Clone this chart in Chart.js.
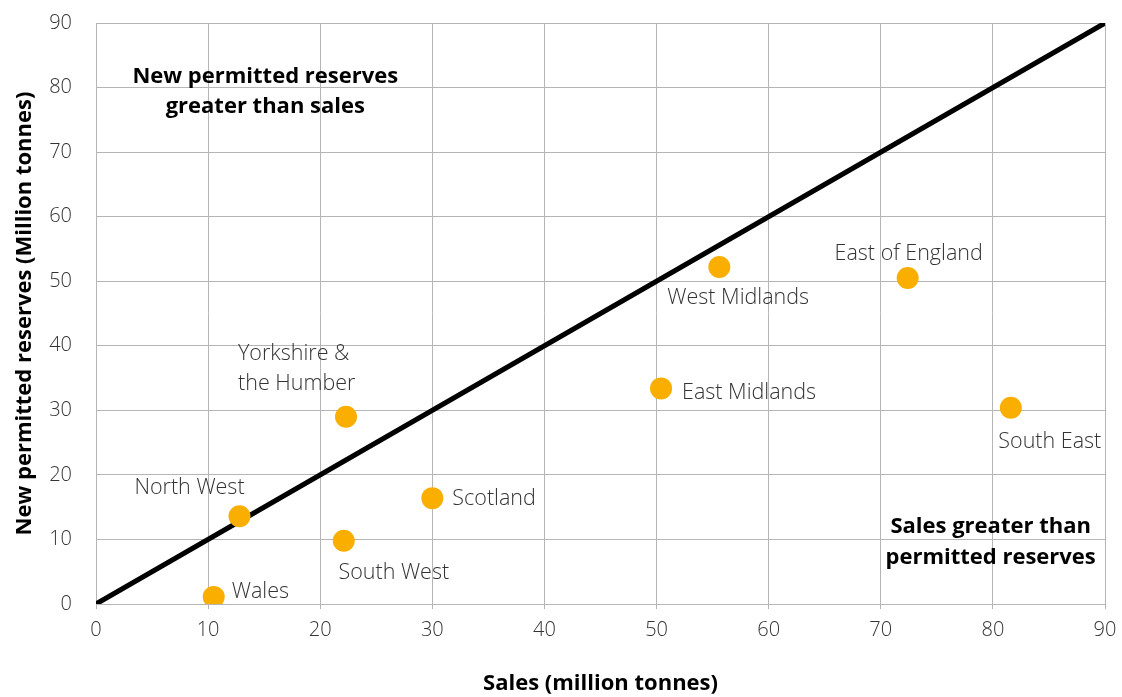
<!DOCTYPE html>
<html>
<head>
<meta charset="utf-8">
<script src="https://cdn.jsdelivr.net/npm/chart.js@4/dist/chart.umd.min.js"></script>
<style>
  html, body { margin: 0; padding: 0; background: #ffffff; }
  #wrap { width: 1122px; height: 697px; position: relative; }
</style>
</head>
<body>
<div id="wrap"><canvas id="c" width="1122" height="697"></canvas></div>
<script>
// ---- data ----
const regions = ["Wales", "North West", "South West", "Yorkshire &\nthe Humber", "Scotland",
                 "East Midlands", "West Midlands", "East of England", "South East"];
const sales    = [10.5, 12.8, 22.1, 22.3, 30.0, 50.4, 55.6, 72.4, 81.6];
const reserves = [1.1, 13.6, 9.8, 29.0, 16.4, 33.4, 52.2, 50.5, 30.4];
const parityLineX = [0, 90];
const parityLineY = [0, 90];
const tickValues = [0, 10, 20, 30, 40, 50, 60, 70, 80, 90];
const xTitle = "Sales (million tonnes)";
const yTitle = "New permitted reserves (Million tonnes)";
const noteTop = ["New permitted reserves", "greater than sales"];
const noteBottom = ["Sales greater than", "permitted reserves"];

// ---- label placement (styling, pixel offsets from each point) ----
const labelPlace = {
  "Wales":                    {dx: 18,  dy: -5,  align: "left"},
  "North West":               {dx: -50, dy: -28, align: "center"},
  "South West":               {dx: 50,  dy: 32,  align: "center"},
  "Yorkshire &\nthe Humber":  {dx: -108, dy: -63, align: "left"},
  "Scotland":                 {dx: 20,  dy: 1,   align: "left"},
  "East Midlands":            {dx: 21,  dy: 4,   align: "left"},
  "West Midlands":            {dx: -52, dy: 31,  align: "left"},
  "East of England":          {dx: 1,   dy: -24, align: "center"},
  "South East":               {dx: 39,  dy: 34,  align: "center"}
};

const LIGHT = "300 21.5px 'Open Sans', sans-serif";
const TEXT = "#333333";
const GRID = "#b5b5b5";

const labelsPlugin = {
  id: "pointLabels",
  afterDatasetsDraw(chart) {
    const ctx = chart.ctx;
    const xs = chart.scales.x, ys = chart.scales.y;
    ctx.save();
    ctx.font = LIGHT;
    ctx.fillStyle = TEXT;
    ctx.textBaseline = "middle";
    regions.forEach((name, i) => {
      const px = xs.getPixelForValue(sales[i]);
      const py = ys.getPixelForValue(reserves[i]);
      const p = labelPlace[name];
      ctx.textAlign = p.align;
      name.split("\n").forEach((line, k) => {
        ctx.fillText(line, px + p.dx, py + p.dy + k * 30);
      });
    });
    // notes
    ctx.font = "bold 22px 'Open Sans', sans-serif";
    ctx.fillStyle = "#000000";
    ctx.textAlign = "center";
    const tx = xs.getPixelForValue(15.1), ty = ys.getPixelForValue(81.6);
    noteTop.forEach((l, k) => ctx.fillText(l, tx, ty + k * 30));
    const bx = xs.getPixelForValue(79.8), by = ys.getPixelForValue(12.0);
    noteBottom.forEach((l, k) => ctx.fillText(l, bx, by + k * 31));
    ctx.restore();
  }
};

new Chart(document.getElementById("c"), {
  type: "scatter",
  data: {
    datasets: [
      {
        label: "Regions",
        data: sales.map((v, i) => ({x: v, y: reserves[i]})),
        backgroundColor: "#F9AE00",
        borderColor: "#F9AE00",
        borderWidth: 0,
        pointRadius: 11,
        pointHoverRadius: 11
      },
      {
        type: "line",
        label: "Parity",
        data: parityLineX.map((v, i) => ({x: v, y: parityLineY[i]})),
        borderColor: "#000000",
        borderWidth: 5,
        pointRadius: 0,
        fill: false,
        showLine: true
      }
    ]
  },
  options: {
    responsive: false,
    animation: false,
    layout: { padding: { top: 23, right: 17, left: 0, bottom: 0 } },
    plugins: { legend: { display: false }, tooltip: { enabled: false } },
    scales: {
      x: {
        type: "linear", min: 0, max: 90,
        afterBuildTicks: s => { s.ticks = tickValues.map(v => ({value: v})); },
        afterFit: s => { s.height = 93; s.paddingLeft = 0; s.paddingRight = 0; },
        grid: { color: GRID, lineWidth: 1, tickLength: 5, drawTicks: true },
        border: { color: GRID, width: 1 },
        ticks: { font: { family: "'Open Sans', sans-serif", size: 20, weight: "300" }, color: TEXT, padding: 9, maxRotation: 0 },
        title: { display: true, text: xTitle, color: "#000000",
                 font: { family: "'Open Sans', sans-serif", size: 22, weight: "bold" },
                 padding: { top: 0, bottom: 0 } }
      },
      y: {
        type: "linear", min: 0, max: 90,
        afterBuildTicks: s => { s.ticks = tickValues.map(v => ({value: v})); },
        afterFit: s => { s.width = 96; s.paddingTop = 0; s.paddingBottom = 0; },
        grid: { color: GRID, lineWidth: 1, drawTicks: false },
        border: { color: GRID, width: 1 },
        ticks: { font: { family: "'Open Sans', sans-serif", size: 20, weight: "300" }, color: TEXT, padding: 24 },
        title: { display: true, text: yTitle, color: "#000000",
                 font: { family: "'Open Sans', sans-serif", size: 22, weight: "bold" },
                 padding: { top: 12, bottom: 0 } }
      }
    }
  },
  plugins: [labelsPlugin]
});
</script>
</body>
</html>
